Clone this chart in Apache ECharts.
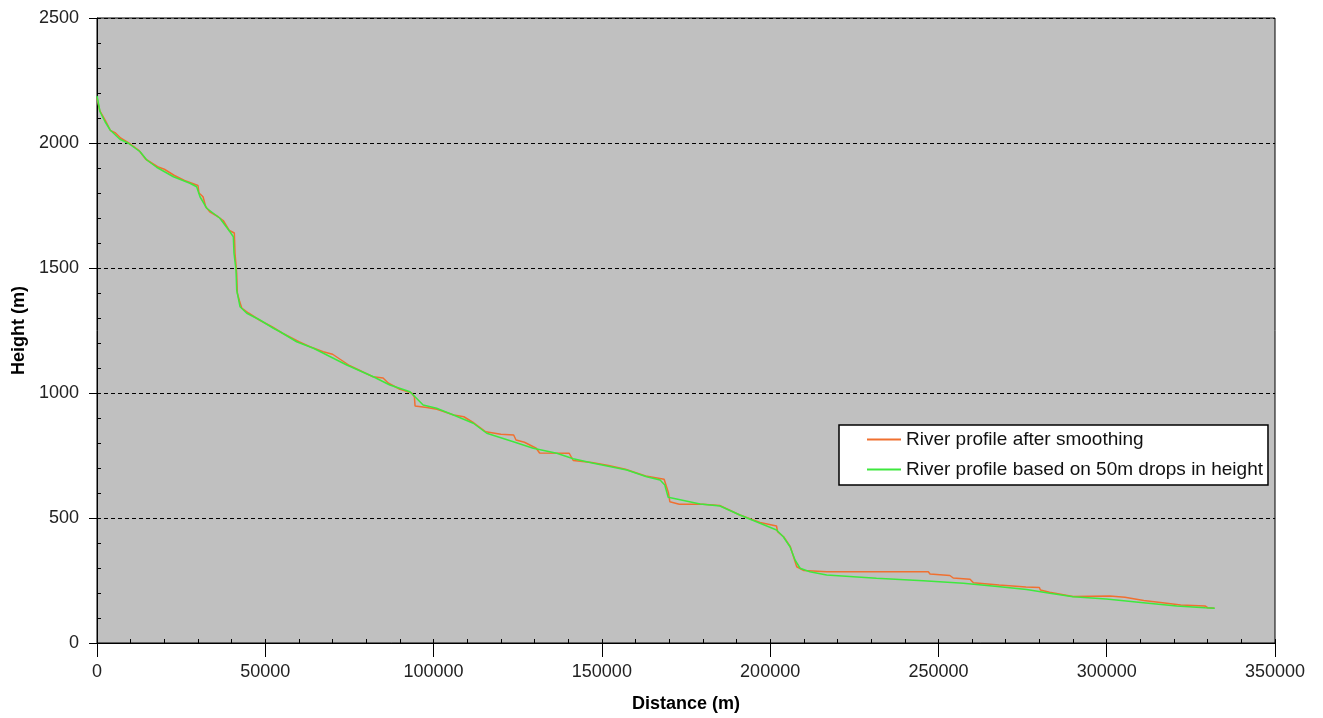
<!DOCTYPE html>
<html>
<head>
<meta charset="utf-8">
<script src="https://cdn.jsdelivr.net/npm/echarts@6/dist/echarts.min.js"></script>
<style>
html,body{margin:0;padding:0;background:#fff;}
#chart{width:1323px;height:718px;}
</style>
</head>
<body>
<div id="chart"></div>
<script>
const seriesNames = ['River profile after smoothing', 'River profile based on 50m drops in height'];
const xTicks = [0, 50000, 100000, 150000, 200000, 250000, 300000, 350000];
const yTicks = [0, 500, 1000, 1500, 2000, 2500];

// River profile after smoothing (stepped)
const distSmooth = [0,500,800,2500,4000,5500,7000,10000,12500,14500,18000,20000,23000,26000,28000,30000,30300,31500,32300,33500,36000,37500,39300,40800,41000,41500,41700,42300,43000,45000,48500,52000,55000,60000,63300,67200,70000,75000,82000,85000,86500,90000,93500,94300,94500,98000,101000,106000,109000,112000,115500,120000,123800,124500,127000,130500,131500,140300,141500,147000,152000,157000,163000,168500,169800,170200,173000,180000,185000,191000,197000,201900,202200,204000,206000,207900,210000,216800,247000,247500,253400,254400,259400,260400,268000,276000,280000,280300,283000,290000,300900,305400,311000,317800,322000,329200,330000,332000];
const heightSmooth = [2180,2175,2130,2090,2050,2040,2020,1995,1970,1935,1905,1895,1870,1850,1840,1830,1800,1785,1745,1725,1705,1690,1650,1640,1560,1480,1400,1370,1340,1320,1290,1265,1240,1205,1185,1165,1155,1110,1065,1060,1040,1015,1000,985,948,942,935,912,905,880,845,835,832,812,803,779,760,759,730,722,710,695,668,655,600,565,555,555,550,512,482,468,445,425,385,305,290,285,285,276,270,260,255,241,232,224,222,212,203,186,188,183,170,159,152,148,141,139];

// River profile based on 50m drops in height
const distDrops = [0,900,2400,3900,6800,9300,12800,14800,17700,22700,27600,29600,30600,32600,36500,39500,40500,40700,41300,41500,42500,44500,48400,52400,54400,59300,64300,74200,82100,87000,93000,96900,100900,105900,111800,115800,123700,129600,136600,141500,147500,157400,163300,167300,168700,169700,172200,179200,185100,191000,197000,201900,203900,205900,207400,208900,211800,216800,231600,245500,257400,268300,276200,283100,290000,299900,310900,320800,329200,332100];
const heightDrops = [2188,2125,2085,2052,2015,1999,1965,1932,1903,1865,1839,1825,1785,1739,1699,1645,1625,1559,1492,1412,1345,1319,1292,1259,1245,1205,1179,1112,1065,1032,1005,952,939,912,879,839,805,779,759,737,719,692,665,652,632,583,576,556,548,512,479,452,425,385,332,299,285,272,259,249,239,225,214,199,185,176,161,148,141,139];

const zip = (a, b) => a.map((v, i) => [v, b[i]]);
const font = 'Liberation Sans, Arial, sans-serif';
const plain = v => String(v);

const chart = echarts.init(document.getElementById('chart'));
chart.setOption({
  animation: false,
  backgroundColor: '#ffffff',
  grid: {
    left: 97, right: 48, top: 18, bottom: 75,
    show: true, backgroundColor: '#c0c0c0', borderColor: '#000', borderWidth: 1,
    outerBoundsMode: 'none'
  },
  legend: {
    orient: 'vertical',
    left: 839, top: 425,
    padding: [5, 5, 6, 28],
    itemGap: 11,
    itemWidth: 34, itemHeight: 2,
    icon: 'rect',
    backgroundColor: '#ffffff',
    borderColor: '#000', borderWidth: 1.5,
    textStyle: { fontFamily: font, fontSize: 19, color: '#111', lineHeight: 18 },
    data: seriesNames
  },
  xAxis: [{
    type: 'value', min: xTicks[0], max: xTicks[xTicks.length - 1], interval: xTicks[1] - xTicks[0],
    name: 'Distance (m)', nameLocation: 'middle', nameGap: 52,
    nameTextStyle: { fontFamily: font, fontSize: 18, fontWeight: 'bold', color: '#000' },
    axisLine: { show: true, lineStyle: { color: '#000', width: 1 } },
    axisTick: { show: true, length: 14, lineStyle: { color: '#000' } },
    axisLabel: { fontFamily: font, fontSize: 18, color: '#222', margin: 20, formatter: plain },
    splitLine: { show: false }
  }, {
    type: 'value', min: xTicks[0], max: xTicks[xTicks.length - 1], interval: 10000,
    position: 'bottom',
    axisLine: { show: false },
    axisTick: { show: true, inside: true, length: 4, lineStyle: { color: '#000' } },
    axisLabel: { show: false },
    splitLine: { show: false }
  }],
  yAxis: [{
    type: 'value', min: yTicks[0], max: yTicks[yTicks.length - 1], interval: yTicks[1] - yTicks[0],
    name: 'Height (m)', nameLocation: 'middle', nameGap: 59, nameRotate: 90,
    nameTextStyle: { fontFamily: font, fontSize: 18, fontWeight: 'bold', color: '#000' },
    axisLine: { show: true, lineStyle: { color: '#000', width: 1 } },
    axisTick: { show: true, length: 8, lineStyle: { color: '#000' } },
    axisLabel: { fontFamily: font, fontSize: 18, color: '#222', margin: 18, formatter: plain },
    splitLine: { show: true, lineStyle: { color: '#000', type: [4, 3], width: 1 } }
  }, {
    type: 'value', min: yTicks[0], max: yTicks[yTicks.length - 1], interval: 100,
    position: 'left',
    axisLine: { show: false },
    axisTick: { show: true, inside: true, length: 4, lineStyle: { color: '#000' } },
    axisLabel: { show: false },
    splitLine: { show: false }
  }],
  series: [{
    name: seriesNames[0], type: 'line', symbol: 'none', z: 2,
    xAxisIndex: 0, yAxisIndex: 0,
    itemStyle: { color: '#f07030' },
    lineStyle: { color: '#f07030', width: 1.5 },
    data: zip(distSmooth, heightSmooth)
  }, {
    name: seriesNames[1], type: 'line', symbol: 'none', z: 3,
    xAxisIndex: 0, yAxisIndex: 0,
    itemStyle: { color: '#3ee83e' },
    lineStyle: { color: '#3ee83e', width: 1.5 },
    data: zip(distDrops, heightDrops)
  }]
});
</script>
</body>
</html>
